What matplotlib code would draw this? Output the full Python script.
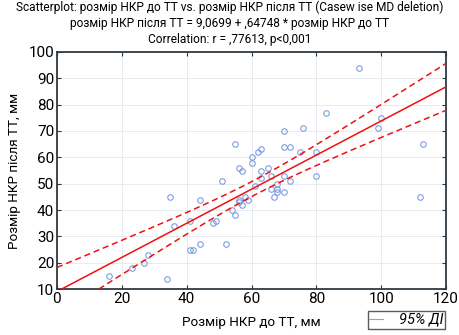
import numpy as np
import matplotlib.pyplot as plt
from matplotlib.lines import Line2D

plt.rcParams["font.family"] = ["Roboto", "DejaVu Sans"]

# розмір НКР до ТТ / після ТТ, мм
before = [16, 23, 27, 28, 34, 35, 36, 41, 41, 42, 44, 44, 48, 49, 51, 52, 54, 55,
          55, 56, 57, 56, 56, 57, 58, 59, 60, 60, 61, 62, 63, 63, 63, 65, 66, 66,
          67, 68, 68, 68, 70, 70, 70, 70, 72, 72, 75, 76, 80, 80, 83, 93, 99, 100,
          112, 113]
after = [15, 18, 20, 23, 14, 45, 34, 36, 25, 25, 44, 27, 35, 36, 51, 27, 40, 65,
         38, 56, 55, 44, 43, 42, 45, 44, 60, 58, 49, 62, 63, 55, 52, 56, 53, 48,
         45, 50, 48, 47, 70, 64, 53, 47, 64, 51, 62, 71, 62, 53, 77, 94, 71, 75,
         45, 65]

intercept = 9.0699
slope = 0.64748

x = np.array(before, dtype=float)
y = np.array(after, dtype=float)
n = len(x)
resid = y - (intercept + slope * x)
s = np.sqrt(np.sum(resid ** 2) / (n - 2))
sxx = np.sum((x - x.mean()) ** 2)
t_crit = 2.005

xs = np.linspace(0, 120, 200)
fit = intercept + slope * xs
half = t_crit * s * np.sqrt(1 / n + (xs - x.mean()) ** 2 / sxx)

fig = plt.figure(figsize=(4.59, 3.35), dpi=100)
ax = fig.add_axes([0.124, 0.137, 0.848, 0.708])

ax.grid(True, color="#e4e8ee", linewidth=0.6)
ax.set_axisbelow(True)

ax.plot(x, y, "o", mfc="none", mec="#7e9ee0", ms=4, mew=0.8, zorder=3)
ax.plot(xs, fit, color="#f01010", lw=1.1, zorder=4)
ax.plot(xs, fit + half, color="#f01010", lw=1.1, ls=(0, (4, 2.5)), zorder=4)
ax.plot(xs, fit - half, color="#f01010", lw=1.1, ls=(0, (4, 2.5)), zorder=4)

ax.set_xlim(0, 120)
ax.set_ylim(10, 100)
ax.set_xticks(range(0, 121, 20))
ax.set_yticks(range(10, 101, 10))
ax.tick_params(direction="in", top=True, right=True, labelsize=11, length=3,
               color="#333333", pad=2)
for sp in ax.spines.values():
    sp.set_color("#2f3a44")
    sp.set_linewidth(1.3)

ax.set_xlabel("Розмір НКР до ТТ, мм", fontsize=9.7, labelpad=7)
ax.set_ylabel("Розмір НКР після ТТ, мм", fontsize=9.7, labelpad=5)

fig.text(0.5, 0.997,
         "Scatterplot: розмір НКР до ТТ vs. розмір НКР після ТТ (Casew ise MD deletion)\n"
         "розмір НКР після ТТ = 9,0699 + ,64748 * розмір НКР до ТТ\n"
         "Correlation: r = ,77613, p<0,001",
         ha="center", va="top", fontsize=8.6, linespacing=1.3)

handle = Line2D([], [], color="#f08080", lw=0.8)
leg = fig.legend([handle], ["95% ДІ"], loc="center", bbox_to_anchor=(0.885, 0.045),
                 frameon=True, fancybox=False, edgecolor="#333333",
                 prop={"style": "italic", "size": 10.5}, handlelength=0.9,
                 borderpad=0.12, handletextpad=1.1, borderaxespad=0)
leg.get_frame().set_linewidth(1.0)

fig.savefig("out.png", dpi=100)
